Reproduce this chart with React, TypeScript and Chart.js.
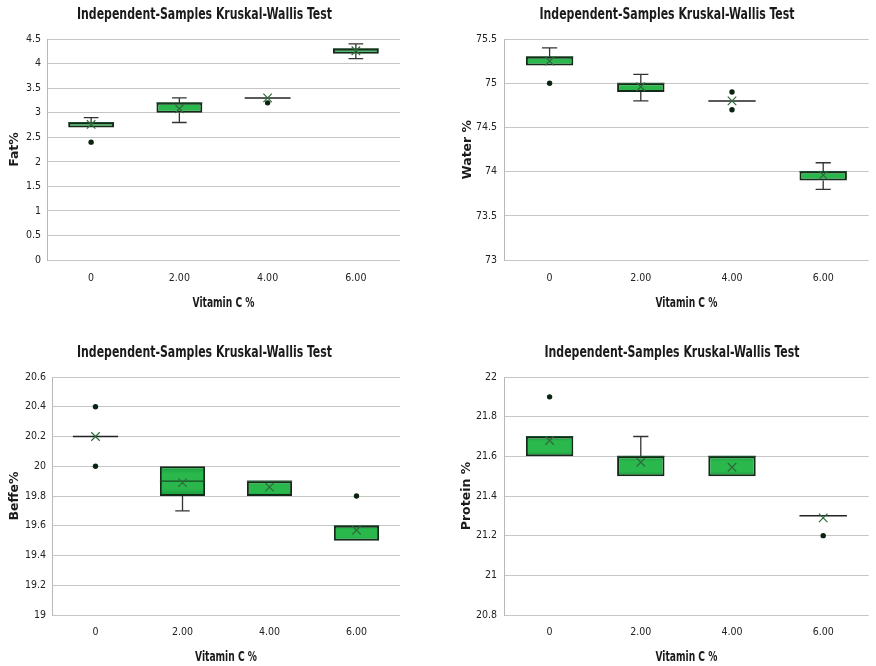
import React, { useEffect, useRef } from 'react';
import { Chart, registerables } from 'chart.js';
Chart.register(...registerables);

// ---------- data ----------
const categories = ['0', '2.00', '4.00', '6.00'];
const xAxisTitle = 'Vitamin C %';
const panelTitle = 'Independent-Samples Kruskal-Wallis Test';

// Fat %
const fatTicks = [0, 0.5, 1, 1.5, 2, 2.5, 3, 3.5, 4, 4.5];
const fatMin = [2.7, 2.8, 3.3, 4.1];
const fatQ1 = [2.7, 3.0, 3.3, 4.2];
const fatMedian = [2.8, 3.2, 3.3, 4.3];
const fatQ3 = [2.8, 3.2, 3.3, 4.3];
const fatMax = [2.9, 3.3, 3.3, 4.4];
const fatMean = [2.76, 3.08, 3.3, 4.26];
const fatOutlierCats = ['0', '4.00'];
const fatOutlierValues = [2.4, 3.2];

// Water %
const waterTicks = [73, 73.5, 74, 74.5, 75, 75.5];
const waterMin = [75.2, 74.8, 74.8, 73.8];
const waterQ1 = [75.2, 74.9, 74.8, 73.9];
const waterMedian = [75.3, 75.0, 74.8, 74.0];
const waterQ3 = [75.3, 75.0, 74.8, 74.0];
const waterMax = [75.4, 75.1, 74.8, 74.1];
const waterMean = [75.25, 74.96, 74.8, 73.96];
const waterOutlierCats = ['0', '4.00', '4.00'];
const waterOutlierValues = [75.0, 74.9, 74.7];

// Beffe %
const beffeTicks = [19, 19.2, 19.4, 19.6, 19.8, 20, 20.2, 20.4, 20.6];
const beffeMin = [20.2, 19.7, 19.8, 19.5];
const beffeQ1 = [20.2, 19.8, 19.8, 19.5];
const beffeMedian = [20.2, 19.9, 19.9, 19.6];
const beffeQ3 = [20.2, 20.0, 19.9, 19.6];
const beffeMax = [20.2, 20.0, 19.9, 19.6];
const beffeMean = [20.2, 19.89, 19.86, 19.57];
const beffeOutlierCats = ['0', '0', '6.00'];
const beffeOutlierValues = [20.4, 20.0, 19.8];

// Protein %
const proteinTicks = [20.8, 21, 21.2, 21.4, 21.6, 21.8, 22];
const proteinMin = [21.6, 21.5, 21.5, 21.3];
const proteinQ1 = [21.6, 21.5, 21.5, 21.3];
const proteinMedian = [21.7, 21.6, 21.6, 21.3];
const proteinQ3 = [21.7, 21.6, 21.6, 21.3];
const proteinMax = [21.7, 21.7, 21.6, 21.3];
const proteinMean = [21.68, 21.57, 21.545, 21.29];
const proteinOutlierCats = ['0', '6.00'];
const proteinOutlierValues = [21.9, 21.2];

// ---------- styling / layout ----------
const NARROW = '"DejaVu Sans Condensed", "Liberation Sans", sans-serif';
const WIDE = '"DejaVu Sans", "Liberation Sans", sans-serif';
const BOX_FRACTION = 0.52;
const CAP_FRACTION = 0.32;

const frames = [
  { left: 0, top: 0, w: 438, h: 325, padTop: 39, padRight: 38, yAxisW: 47, xAxisH: 65, yTitlePad: 7, yTickPad: 6, xTickPad: 12, titleX: 204.5, titleY: 15, xTitleY: 303 },
  { left: 438, top: 0, w: 438, h: 325, padTop: 39, padRight: 1, yAxisW: 66, xAxisH: 65, yTitlePad: 22, yTickPad: 7, xTickPad: 12, titleX: 229, titleY: 15, xTitleY: 303 },
  { left: 0, top: 325, w: 438, h: 341, padTop: 52, padRight: 38, yAxisW: 52, xAxisH: 51, yTitlePad: 7, yTickPad: 6, xTickPad: 11, titleX: 204.5, titleY: 28, xTitleY: 332 },
  { left: 438, top: 325, w: 438, h: 341, padTop: 52, padRight: 1, yAxisW: 66, xAxisH: 51, yTitlePad: 21, yTickPad: 7, xTickPad: 11, titleX: 234, titleY: 28, xTitleY: 332 },
];
const TITLE_WIDTH = 255;
const X_TITLE_WIDTH = 62;

const panels = [
  { yTitle: 'Fat%', ticks: fatTicks, min: fatMin, q1: fatQ1, median: fatMedian, q3: fatQ3, max: fatMax, mean: fatMean, outCats: fatOutlierCats, outVals: fatOutlierValues },
  { yTitle: 'Water %', ticks: waterTicks, min: waterMin, q1: waterQ1, median: waterMedian, q3: waterQ3, max: waterMax, mean: waterMean, outCats: waterOutlierCats, outVals: waterOutlierValues },
  { yTitle: 'Beffe%', ticks: beffeTicks, min: beffeMin, q1: beffeQ1, median: beffeMedian, q3: beffeQ3, max: beffeMax, mean: beffeMean, outCats: beffeOutlierCats, outVals: beffeOutlierValues },
  { yTitle: 'Protein %', ticks: proteinTicks, min: proteinMin, q1: proteinQ1, median: proteinMedian, q3: proteinQ3, max: proteinMax, mean: proteinMean, outCats: proteinOutlierCats, outVals: proteinOutlierValues },
];

function drawFitted(c: CanvasRenderingContext2D, text: string, font: string, x: number, y: number, width: number) {
  c.save();
  c.font = font;
  c.fillStyle = '#1a1a1a';
  c.textAlign = 'center';
  c.textBaseline = 'middle';
  const w = c.measureText(text).width;
  c.translate(x, y);
  c.scale(width / w, 1);
  c.fillText(text, 0, 0);
  c.restore();
}

function boxFill(ctx: any) {
  const base = '#26b24a';
  if (ctx.type !== 'data' || !ctx.raw) return base;
  const ys = ctx.chart.scales && ctx.chart.scales.y;
  if (!ys) return base;
  const top = ys.getPixelForValue(ctx.raw[1]);
  const bot = ys.getPixelForValue(ctx.raw[0]);
  if (!isFinite(top) || !isFinite(bot) || top === bot) return base;
  const g = ctx.chart.ctx.createLinearGradient(0, top, 0, bot);
  g.addColorStop(0, '#1a9a3c');
  g.addColorStop(0.25, '#2ab84d');
  g.addColorStop(0.75, '#2ab84d');
  g.addColorStop(1, '#1a9a3c');
  return g;
}

function BoxPanel({ panel, frame }: { panel: any; frame: any }) {
  const ref = useRef<HTMLCanvasElement>(null);
  useEffect(() => {
    const boxes = panel.q1.map((q: number, i: number) => (q === panel.q3[i] ? null : [q, panel.q3[i]]));
    const outliers = panel.outCats.map((cat: string, i: number) => ({ x: cat, y: panel.outVals[i] }));

    const textPlugin = {
      id: 'panelText',
      afterDraw(chart: any) {
        const c = chart.ctx;
        drawFitted(c, panelTitle, `bold 15px ${NARROW}`, frame.titleX, frame.titleY, TITLE_WIDTH);
        const ca = chart.chartArea;
        drawFitted(c, xAxisTitle, `bold 14px ${NARROW}`, (ca.left + ca.right) / 2, frame.xTitleY, X_TITLE_WIDTH);
      },
    };

    const whiskerPlugin = {
      id: 'boxWhiskers',
      afterDatasetDraw(chart: any, args: any) {
        if (args.meta.type !== 'bar') return;
        const xs = chart.scales.x;
        const ys = chart.scales.y;
        const c = chart.ctx;
        const catW = xs.width / categories.length;
        const half = (catW * BOX_FRACTION) / 2;
        const capHalf = half * CAP_FRACTION;
        c.save();
        for (let i = 0; i < categories.length; i++) {
          const cx = xs.getPixelForValue(i);
          const pMin = ys.getPixelForValue(panel.min[i]);
          const pQ1 = ys.getPixelForValue(panel.q1[i]);
          const pMed = ys.getPixelForValue(panel.median[i]);
          const pQ3 = ys.getPixelForValue(panel.q3[i]);
          const pMax = ys.getPixelForValue(panel.max[i]);
          c.strokeStyle = '#333333';
          c.lineWidth = 1.3;
          c.beginPath();
          if (panel.max[i] > panel.q3[i]) {
            c.moveTo(cx, pQ3); c.lineTo(cx, pMax);
            c.moveTo(cx - capHalf, pMax); c.lineTo(cx + capHalf, pMax);
          }
          if (panel.min[i] < panel.q1[i]) {
            c.moveTo(cx, pQ1); c.lineTo(cx, pMin);
            c.moveTo(cx - capHalf, pMin); c.lineTo(cx + capHalf, pMin);
          }
          c.stroke();
          const collapsed = panel.q1[i] === panel.q3[i];
          c.strokeStyle = collapsed ? '#222222' : '#1b4a26';
          c.lineWidth = collapsed ? 1.5 : 1.1;
          c.beginPath();
          c.moveTo(cx - half, pMed); c.lineTo(cx + half, pMed);
          c.stroke();
        }
        c.restore();
      },
    };

    const chart = new Chart(ref.current as HTMLCanvasElement, {
      type: 'bar',
      data: {
        labels: categories,
        datasets: [
          {
            type: 'line',
            data: panel.mean,
            showLine: false,
            pointStyle: 'crossRot',
            pointRadius: 6,
            pointBorderColor: '#2f6a3c',
            pointBackgroundColor: 'rgba(0,0,0,0)',
            pointBorderWidth: 1.2,
            order: 1,
          },
          {
            type: 'line',
            data: outliers,
            showLine: false,
            pointStyle: 'circle',
            pointRadius: 2.7,
            pointBorderWidth: 0,
            pointBackgroundColor: '#0a2410',
            order: 2,
          },
          {
            type: 'bar',
            data: boxes,
            backgroundColor: boxFill,
            borderColor: '#14291a',
            borderWidth: 2,
            borderSkipped: false,
            barPercentage: BOX_FRACTION,
            categoryPercentage: 1,
            order: 3,
          },
        ],
      },
      options: {
        responsive: false,
        animation: false,
        devicePixelRatio: 1,
        layout: { padding: { top: frame.padTop, right: frame.padRight, bottom: 0, left: 0 } },
        plugins: {
          legend: { display: false },
          tooltip: { enabled: false },
        },
        scales: {
          x: {
            type: 'category',
            offset: true,
            grid: { display: false, drawTicks: false },
            border: { display: false },
            ticks: { padding: frame.xTickPad, color: '#222', font: { family: NARROW, size: 10.5 } },
            title: { display: false },
            afterFit: (s: any) => { s.height = frame.xAxisH; },
          },
          y: {
            type: 'linear',
            min: panel.ticks[0],
            max: panel.ticks[panel.ticks.length - 1],
            afterBuildTicks: (s: any) => { s.ticks = panel.ticks.map((v: number) => ({ value: v })); },
            grid: { color: '#c6c6c6', lineWidth: 1, drawTicks: false },
            border: { display: true, color: '#b8b8b8', width: 1 },
            ticks: { padding: frame.yTickPad, color: '#222', font: { family: NARROW, size: 10.5 }, callback: (v: any) => String(v) },
            title: { display: true, text: panel.yTitle, color: '#1a1a1a', font: { family: WIDE, size: 12.5, weight: 'bold' }, padding: { top: frame.yTitlePad, bottom: 0 } },
            afterFit: (s: any) => { s.width = frame.yAxisW; },
          },
        },
      } as any,
      plugins: [textPlugin, whiskerPlugin],
    } as any);
    return () => chart.destroy();
  }, []);
  return (
    <canvas
      ref={ref}
      width={frame.w}
      height={frame.h}
      style={{ position: 'absolute', left: frame.left, top: frame.top, width: frame.w, height: frame.h }}
    />
  );
}

export default function App() {
  return (
    <div style={{ position: 'fixed', left: 0, top: 0, width: 876, height: 666, background: '#ffffff', overflow: 'hidden' }}>
      {panels.map((p, i) => (
        <BoxPanel key={i} panel={p} frame={frames[i]} />
      ))}
    </div>
  );
}
